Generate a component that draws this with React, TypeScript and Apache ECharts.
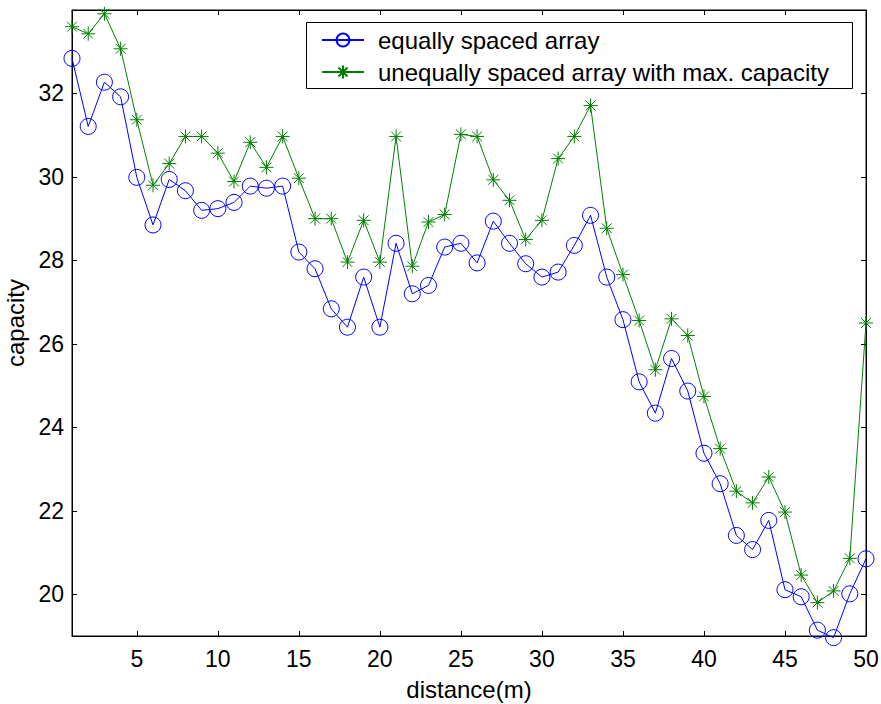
import React, { useEffect, useRef } from "react";
import * as echarts from "echarts";

const distances = Array.from({ length: 50 }, (_, i) => i + 1);

const equallySpaced = [
  32.84, 31.21, 32.27, 31.92, 29.99, 28.85, 29.94, 29.67, 29.2, 29.24,
  29.39, 29.78, 29.73, 29.78, 28.2, 27.8, 26.84, 26.4, 27.6, 26.4,
  28.41, 27.2, 27.4, 28.32, 28.41, 27.94, 28.94, 28.41, 27.92, 27.6,
  27.72, 28.36, 29.08, 27.6, 26.58, 25.09, 24.34, 25.65, 24.87, 23.38,
  22.65, 21.41, 21.07, 21.77, 20.11, 19.94, 19.14, 18.96, 20.01, 20.85,
];

const unequallySpaced = [
  33.6, 33.43, 33.91, 33.07, 31.37, 29.8, 30.32, 30.97, 30.97, 30.57,
  29.89, 30.83, 30.23, 30.97, 29.97, 29.0, 29.0, 27.96, 28.96, 27.96,
  30.97, 27.86, 28.92, 29.1, 31.02, 30.97, 29.93, 29.44, 28.5, 28.96,
  30.44, 30.97, 31.71, 28.77, 27.66, 26.56, 25.38, 26.6, 26.2, 24.74,
  23.49, 22.47, 22.19, 22.81, 21.97, 20.46, 19.8, 20.08, 20.86, 26.5,
];

const xTicks = [5, 10, 15, 20, 25, 30, 35, 40, 45, 50];
const yTicks = [20, 22, 24, 26, 28, 30, 32];

const seriesNames = [
  "equally spaced array",
  "unequally spaced array with max. capacity",
];

const starPath = "path://M0,-10L0,10M-10,0L10,0M-7,-7L7,7M-7,7L7,-7";

const FONT = "Liberation Sans, Arial, sans-serif";

export default function App() {
  const ref = useRef<HTMLDivElement>(null);

  useEffect(() => {
    document.body.style.margin = "0";
    document.body.style.overflow = "hidden";
    if (!ref.current) return;
    const chart = echarts.init(ref.current, null, { renderer: "svg" });
    const tickStyle = {
      show: true,
      inside: true,
      length: 5,
      lineStyle: { color: "#000", width: 1 },
    };
    const xBase = {
      type: "value" as const,
      min: 1,
      max: 50,
      splitLine: { show: false },
      axisLine: { show: true, onZero: false, lineStyle: { color: "#000", width: 1 } },
    };
    const yBase = {
      type: "value" as const,
      min: 19,
      max: 34,
      splitLine: { show: false },
      axisLine: { show: true, onZero: false, lineStyle: { color: "#000", width: 1 } },
    };
    chart.setOption({
      animation: false,
      backgroundColor: "#fff",
      textStyle: { fontFamily: FONT },
      grid: {
        left: 72,
        right: 15,
        top: 10,
        bottom: 68,
        containLabel: false,
        outerBoundsMode: "none",
        show: true,
        borderColor: "#000",
        borderWidth: 1,
        backgroundColor: "transparent",
      },
      xAxis: [
        {
          ...xBase,
          position: "bottom",
          name: "distance(m)",
          nameLocation: "middle",
          nameGap: 41,
          nameTextStyle: { fontSize: 24, color: "#000", fontFamily: FONT },
          axisTick: { ...tickStyle, customValues: xTicks },
          axisLabel: {
            show: true,
            customValues: xTicks,
            fontSize: 23,
            color: "#000",
            margin: 11,
            fontFamily: FONT,
          },
        },
        {
          ...xBase,
          position: "top",
          axisTick: { ...tickStyle, customValues: xTicks },
          axisLabel: { show: false },
        },
      ],
      yAxis: [
        {
          ...yBase,
          position: "left",
          name: "capacity",
          nameLocation: "middle",
          nameGap: 40,
          nameTextStyle: { fontSize: 24, color: "#000", fontFamily: FONT },
          axisTick: { ...tickStyle, customValues: yTicks },
          axisLabel: {
            show: true,
            customValues: yTicks,
            fontSize: 23,
            color: "#000",
            margin: 8,
            fontFamily: FONT,
          },
        },
        {
          ...yBase,
          position: "right",
          axisTick: { ...tickStyle, customValues: yTicks },
          axisLabel: { show: false },
        },
      ],
      legend: {
        left: 321,
        top: 28,
        orient: "vertical",
        itemWidth: 42,
        itemHeight: 16,
        itemGap: 8,
        padding: 0,
        z: 20,
        textStyle: {
          fontSize: 24,
          lineHeight: 24,
          color: "#000",
          fontFamily: FONT,
          padding: [0, 0, 0, 9],
        },
        data: seriesNames,
      },
      graphic: [
        {
          type: "rect",
          shape: { x: 306.5, y: 22.5, width: 546, height: 66 },
          style: { fill: "#fff", stroke: "#000", lineWidth: 1 },
          z: 4,
        },
      ],
      series: [
        {
          name: seriesNames[0],
          type: "line",
          data: distances.map((d, i) => [d, equallySpaced[i]]),
          symbol: "circle",
          symbolSize: 16,
          showAllSymbol: true,
          clip: false,
          lineStyle: { color: "#0000ff", width: 1 },
          itemStyle: { color: "rgba(0,0,0,0)", borderColor: "#0000ff", borderWidth: 1 },
          emphasis: { disabled: true },
          z: 3,
        },
        {
          name: seriesNames[1],
          type: "line",
          data: distances.map((d, i) => [d, unequallySpaced[i]]),
          symbol: starPath,
          symbolSize: 14,
          showAllSymbol: true,
          clip: false,
          lineStyle: { color: "#008000", width: 1 },
          itemStyle: { color: "rgba(0,0,0,0)", borderColor: "#008000", borderWidth: 1 },
          emphasis: { disabled: true },
          z: 2,
        },
      ],
    });
    return () => chart.dispose();
  }, []);

  return <div ref={ref} style={{ width: 881, height: 704 }} />;
}
